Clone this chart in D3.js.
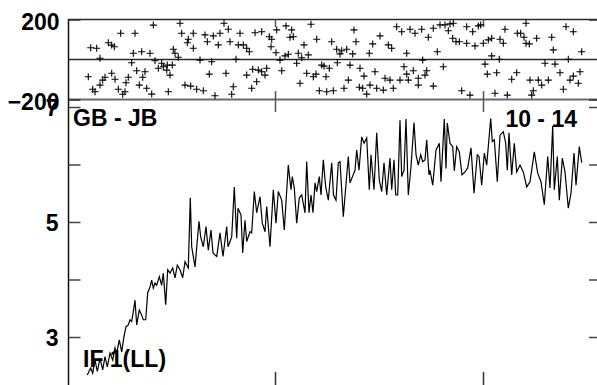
<!DOCTYPE html>
<html><head><meta charset="utf-8">
<script src="https://cdn.jsdelivr.net/npm/d3@7"></script>
<style>html,body{margin:0;padding:0;background:#fff}svg{display:block}</style>
</head><body>
<svg id="c" width="597" height="385"></svg>
<script>
// ---- data ----
const xTicks = [208, 416];
const topTicks = [-200, 0, 200];
const topLabels = [200, -200];
const botTicks = [3, 4, 5, 6, 7];
const botLabels = [3, 5, 7];
const panelLabels = ["GB - JB", "10 - 14", "IF 1(LL)"];

const lineX = [20.3,23.7,25.7,28,30.3,33,35.7,38,40.3,43,45.7,48,49.7,52.3,54.7,57,59,61.3,63,64.7,66.3,68,69.7,72.3,74.7,76.3,78.7,80.7,83,84.7,86.3,88,89.7,92.3,94.7,96.3,98.7,100.7,103,105.7,108,110.3,113,115.7,118,121.3,123.3,124.7,128,132,133.7,136.3,139,141.3,
144,146,149.7,153,156,159.7,161,164.7,167.3,169.7,171,174,175.7,178,179.7,183,184.7,187.3,189.7,193,195.3,198,199.7,203,206.3,209,211.3,214.7,217.3,221.3,224,225.3,227.3,229.7,232.3,234.7,238,239.7,242,244,246,248,249.7,252.3,254,256.3,258.7,261.3,264.7,
266.5,269,271.3,273,276.3,281.3,283,288,289.7,292,294.7,297,299.7,302.3,304,307,309.7,312.3,314.7,317,319.7,323,324.7,327,328.7,330.7,333,334.7,337,339,341.3,344,347,349,351.3,353.7,355.7,358,359.7,362,363,365.7,369,372.3,374,377.3,379,380.3,383,385.7,387.3,389.7,392.3,
395,398,400.7,404,407,410.3,412,414.7,417.3,419.7,423.7,425.3,427.3,430.3,433,436.3,438.7,440.3,442,444.7,447.3,449.7,453,456.3,459.7,463,467.3,470.7,474,477.3,480.7,483,485.7,487.3,490.3,492.3,495.3,498,501.3,504,507,509,512.3,514.7];
const lineV = [2.34,2.46,2.37,2.60,2.40,2.63,2.43,2.66,2.48,2.72,2.60,2.81,2.72,2.95,2.74,3.01,3.18,3.21,3.30,3.27,3.44,3.64,3.21,3.47,3.38,3.30,3.30,3.77,3.87,3.99,3.85,3.94,3.90,4.05,3.90,4.11,3.56,4.17,4.11,4.20,4.03,4.25,4.17,4.03,4.31,4.20,5.42,4.57,4.22,5.01,4.74,4.57,4.92,4.51,
4.86,4.46,4.40,4.81,4.40,4.92,4.57,4.74,5.61,4.72,5.24,5.12,4.46,5.03,4.66,4.83,4.81,5.53,5.16,5.44,4.98,4.83,5.27,4.57,5.56,4.98,5.53,5.38,4.86,5.99,5.56,5.79,5.59,4.98,5.42,5.47,5.16,6.05,5.16,5.47,5.16,5.68,5.53,5.79,5.47,6.08,5.61,5.38,6.03,
5.47,5.38,6.03,6.05,5.09,6.14,5.68,5.90,6.25,5.90,6.48,6.37,6.46,5.56,6.17,5.56,6.55,5.73,5.53,6.03,5.47,6.11,5.56,6.08,5.47,5.47,6.77,5.79,5.90,6.79,5.47,5.96,6.73,6.17,5.99,6.17,6.05,6.08,6.43,5.82,5.90,5.64,6.25,6.37,5.70,6.79,5.93,6.72,6.37,6.31,5.89,6.31,6.22,
5.82,5.87,5.94,6.29,5.50,6.17,6.14,5.64,6.20,5.99,6.80,6.40,6.43,5.70,6.51,6.57,6.37,5.90,6.55,5.82,6.37,5.87,5.99,5.87,5.61,5.70,6.22,5.85,5.70,5.30,6.14,5.59,6.67,5.56,6.14,5.38,6.11,5.87,5.24,5.50,6.20,5.64,6.31,6.03];

const crossX = [86.3,113,53.7,68,114.7,126.3,121.3,120.3,41.3,44.7,47.3,23.7,29.7,106.3,126.3,108,66.3,74.7,83,33,111.3,88,94.7,64.7,100.3,105.3,91.3,96.3,99.7,69.7,78,44.7,21.3,38,48,61.3,75.7,103,35.7,59,33,72.3,79.7,118,123.7,129.7,25.7,28,51.3,58,55.7,84.7,101.3,
157,161.3,138,146.3,153,140.3,151.3,163,173,171.3,176.3,179.7,182.3,188,194.7,202.3,204.7,204,209.7,219,224.7,223,226.3,209,213,218,221.3,231.3,234.7,241.3,237,244,249.7,264.7,269.7,274.7,279.7,273,285.7,287,289,302.3,305.7,313,321.3,324.7,329.7,133,144.7,169,142.3,159,179.7,185.7,191.3,194.7,199.7,198,214.7,229.7,239.7,246.3,249,254.7,257,262.3,259,270.3,283,293,297,308,281.3,318,323,303,189.7,184.7,166.3,233,136.3,164.7,148,252.3,259.7,266.3,277,292.3,295.7,299.7,309.7,316.3,326.3,
334.7,343,348,354.7,361.3,366.3,373,378,383,386.3,381.3,399.7,405.7,411.3,413.7,385.7,389,392.3,399.7,408,416.3,421.3,424.7,433,436.3,438,450.3,453.7,457,459,459,462.3,469.7,484.7,499,506.3,486.3,514.7,339.7,370.3,355.7,337,346.3,359.7,376.3,339.7,351.3,358,341.3,351.3,366.3,418,424.7,432.3,420.3,429.7,444.7,449.7,463,471.3,474.7,481.3,478,488,493,501.3,506.3,513,503,511.3,496.3,466.3,394.7,403,428,440.3,464.7,333];
const crossV = [172,181,131,131,131,131,101,84,84,72,64,59,56,51,56,31,31,39,31,6,11,-6,-19,-16,-28,-28,-44,-36,-53,-56,-61,-69,-86,-89,-99,-89,-89,-78,-103,-116,-128,-128,-144,-128,-133,-149,-149,-161,-149,-161,-174,-173,-161,
181,151,123,118,131,89,73,89,131,73,73,56,39,134,139,114,101,64,148,168,148,111,114,34,-3,18,26,31,9,23,73,176,101,89,51,44,51,28,28,148,89,31,78,118,73,56,164,-3,-11,1,-73,-69,-78,-49,-53,-61,-44,-78,-56,-19,-69,-86,-73,-28,-33,-44,-86,-16,-28,-44,-83,-61,-103,-94,-103,-128,-111,-144,-136,-119,-156,-174,-181,-156,-161,-156,-144,-139,-144,-173,-144,-153,-144,
139,151,131,151,111,156,173,173,178,181,144,164,139,168,173,106,89,89,81,68,81,98,106,101,81,151,131,131,111,181,81,78,106,111,164,139,48,39,31,39,-3,-36,-56,-56,-36,-73,-94,-78,-103,-128,-133,-23,18,1,-73,-66,-99,-66,-103,-103,-128,-103,-19,-23,-66,1,-83,-61,-103,-119,-149,-156,-156,-178,-169,-178,-178,-103];

// ---- chart ----
const W = 597, H = 385;
const svg = d3.select("#c");
const font = "'Liberation Sans', Arial, Helvetica, sans-serif";
const fs = "23px";
const x = d3.scaleLinear().domain([0, 530]).range([67, 597]);
const yTop = d3.scaleLinear().domain([-200, 200]).range([99.5, 19.5]);
const yBot = d3.scaleLinear().domain([3, 7]).range([337, 107]);
const left = 68.5;

// top panel horizontal lines
svg.append("g").selectAll("line").data(topTicks).join("line")
  .attr("x1", left).attr("x2", W)
  .attr("y1", d => yTop(d)).attr("y2", d => yTop(d))
  .attr("stroke", d => d === -200 ? "#6a6a6a" : "#2a2a2a")
  .attr("stroke-width", d => d === -200 ? 2 : 1.5);

// left axis line
svg.append("line").attr("x1", left).attr("x2", left).attr("y1", 19).attr("y2", H)
  .attr("stroke", "#111").attr("stroke-width", 1.5);

function styleAxis(g, color, w) {
  g.select(".domain").remove();
  g.selectAll(".tick line").attr("stroke", color).attr("stroke-width", w);
  g.selectAll(".tick text").attr("fill", "#000").style("font-family", font)
    .style("font-weight", "bold").style("font-size", fs);
}

// top panel left axis labels
svg.append("g").attr("transform", `translate(${left},0)`)
  .call(d3.axisLeft(yTop).tickValues(topLabels).tickSize(-12).tickPadding(9).tickFormat(d3.format("d")))
  .call(g => styleAxis(g, "#333", 1.5))
  .selectAll(".tick text").attr("dy", "0.42em");

// top panel right ticks
svg.append("g").attr("transform", `translate(${W},0)`)
  .call(d3.axisRight(yTop).tickValues(topLabels).tickSize(-8).tickFormat(""))
  .call(g => styleAxis(g, "#333", 1.5));

// top panel vertical x ticks
svg.append("g").attr("transform", `translate(0,19)`)
  .call(d3.axisBottom(x).tickValues(xTicks).tickSize(8).tickFormat(""))
  .call(g => styleAxis(g, "#555", 1.5));
svg.append("g").attr("transform", `translate(0,91)`)
  .call(d3.axisBottom(x).tickValues(xTicks).tickSize(21).tickFormat(""))
  .call(g => styleAxis(g, "#555", 1.5));

// bottom panel left axis
svg.append("g").attr("transform", `translate(${left},0)`)
  .call(d3.axisLeft(yBot).tickValues(botTicks).tickSize(-12).tickPadding(10)
    .tickFormat(d => botLabels.includes(d) ? d3.format("d")(d) : ""))
  .call(g => styleAxis(g, "#444", 1.5))
  .selectAll(".tick text").attr("dy", "0.36em");

// bottom panel right ticks
svg.append("g").attr("transform", `translate(${W},0)`)
  .call(d3.axisRight(yBot).tickValues(botTicks).tickSize(-8).tickFormat(""))
  .call(g => styleAxis(g, "#444", 1.5));

// bottom x ticks
svg.append("g").attr("transform", `translate(0,${H})`)
  .call(d3.axisBottom(x).tickValues(xTicks).tickSize(-13).tickFormat(""))
  .call(g => styleAxis(g, "#333", 1.5));

// crosses
const crosses = crossX.map((d, i) => ({ x: d, v: crossV[i] }));
svg.append("g").selectAll("path").data(crosses).join("path")
  .attr("transform", d => `translate(${x(d.x)},${yTop(d.v)})`)
  .attr("d", "M-3.5,0H3.5M0,-3.5V3.5")
  .attr("stroke", "#000").attr("stroke-width", 1.1).attr("fill", "none");

// line
const pts = lineX.map((d, i) => ({ x: d, v: lineV[i] }));
svg.append("path").datum(pts)
  .attr("d", d3.line().x(d => x(d.x)).y(d => yBot(d.v)))
  .attr("fill", "none").attr("stroke", "#000").attr("stroke-width", 1.2)
  .attr("stroke-linejoin", "miter");

// panel labels
const lab = [
  { t: panelLabels[0], x: 73, y: 126, a: "start" },
  { t: panelLabels[1], x: 577, y: 127, a: "end" },
  { t: panelLabels[2], x: 83, y: 367, a: "start" }
];
svg.append("g").selectAll("text").data(lab).join("text")
  .attr("x", d => d.x).attr("y", d => d.y).attr("text-anchor", d => d.a)
  .style("font-family", font).style("font-weight", "bold").style("font-size", fs)
  .attr("fill", "#000").text(d => d.t);
</script>
</body></html>
